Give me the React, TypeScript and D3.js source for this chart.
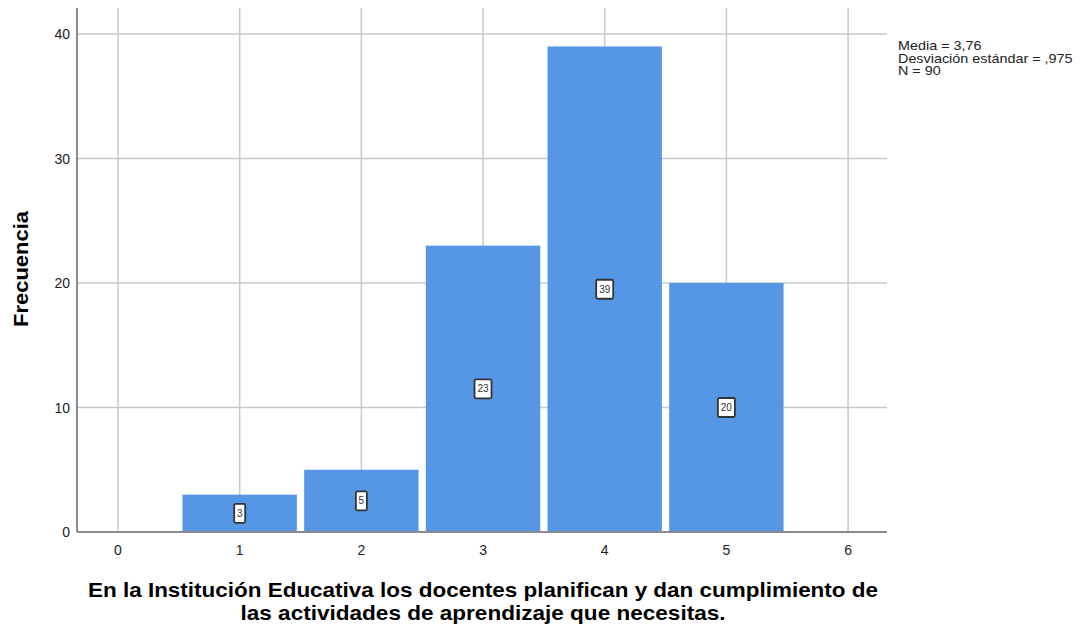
import React from "react";
import * as d3 from "d3";

const categories = [0, 1, 2, 3, 4, 5, 6];
const frequencies = [0, 3, 5, 23, 39, 20, 0];
const yTicks = [0, 10, 20, 30, 40];
const xTicks = [0, 1, 2, 3, 4, 5, 6];
const statsLines = ["Media = 3,76", "Desviación estándar = ,975", "N = 90"];
const yTitle = "Frecuencia";
const xTitleLines = [
  "En la Institución Educativa los docentes planifican y dan cumplimiento de",
  "las actividades de aprendizaje que necesitas.",
];

export default function App() {
  const W = 1092, H = 628;
  const left = 77, right = 887, top = 8, bottom = 532;
  const x = d3.scaleLinear().domain([-0.337, 6.32]).range([left, right]);
  const y = d3.scaleLinear().domain([0, 40]).range([bottom, 34]);
  const half = 0.47;
  const font = "Arial, 'Liberation Sans', sans-serif";
  const titleLens = [790, 485];
  return (
    <svg width={W} height={H} style={{ position: "absolute", left: 0, top: 0 }} fontFamily={font}>
      <rect x={0} y={0} width={W} height={H} fill="#fff" />
      {xTicks.map((t) => (
        <line key={"gx" + t} x1={x(t)} x2={x(t)} y1={top} y2={bottom} stroke="#c8c8c8" strokeWidth={1.5} />
      ))}
      {yTicks.map((t) => (
        <line key={"gy" + t} x1={left} x2={right} y1={y(t)} y2={y(t)} stroke="#c8c8c8" strokeWidth={1.5} />
      ))}
      {categories.map((c, i) =>
        frequencies[i] > 0 ? (
          <rect
            key={"b" + c}
            x={x(c - half)}
            y={y(frequencies[i])}
            width={x(c + half) - x(c - half)}
            height={y(0) - y(frequencies[i])}
            fill="#5597e4"
          />
        ) : null
      )}
      <line x1={left} x2={left} y1={top} y2={bottom} stroke="#8a8a8a" strokeWidth={2} />
      <line x1={left} x2={right} y1={bottom} y2={bottom} stroke="#8a8a8a" strokeWidth={2} />
      {categories.map((c, i) => {
        if (frequencies[i] <= 0) return null;
        const s = String(frequencies[i]);
        const w = s.length === 1 ? 11 : 17;
        const cx = x(c);
        const cy = y(frequencies[i] / 2);
        return (
          <g key={"l" + c}>
            <rect x={cx - w / 2} y={cy - 9.5} width={w} height={19} fill="#fff" stroke="#333" strokeWidth={1.8} rx={1.5} />
            <text x={cx} y={cy + 3.5} fontSize={10} textAnchor="middle" fill="#333">{s}</text>
          </g>
        );
      })}
      {yTicks.map((t) => (
        <text key={"yl" + t} x={70} y={y(t) + 5} fontSize={14} textAnchor="end" fill="#222">{t}</text>
      ))}
      {xTicks.map((t) => (
        <text key={"xl" + t} x={x(t)} y={555} fontSize={14} textAnchor="middle" fill="#222">{t}</text>
      ))}
      <text transform={`translate(28,269) rotate(-90)`} fontSize={20} fontWeight="bold" textAnchor="middle" fill="#000" textLength={116} lengthAdjust="spacingAndGlyphs">{yTitle}</text>
      {xTitleLines.map((l, i) => (
        <text key={"xt" + i} x={483} y={597 + i * 23} fontSize={20.5} fontWeight="bold" textAnchor="middle" fill="#000" textLength={titleLens[i]} lengthAdjust="spacingAndGlyphs">{l}</text>
      ))}
      <g transform="translate(898,0) scale(1.15,1)">
        {statsLines.map((l, i) => (
          <text key={"s" + i} x={0} y={50.5 + i * 12.5} fontSize={12.5} fill="#222">{l}</text>
        ))}
      </g>
    </svg>
  );
}
